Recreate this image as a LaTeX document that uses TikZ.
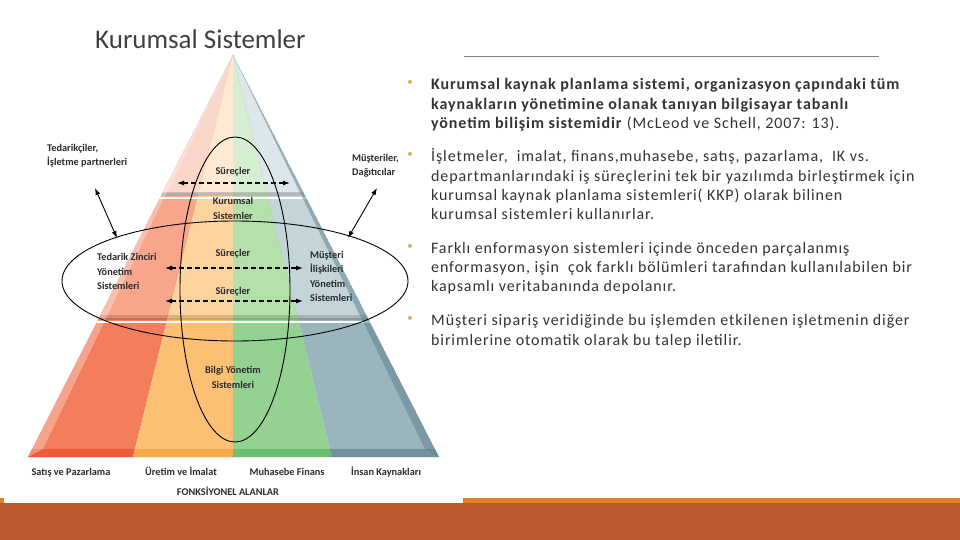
\documentclass[tikz,border=0pt]{standalone}
\usepackage{fontspec}
\setmainfont{Carlito}
\newfontfamily\spacedfont[LetterSpace=5.5]{Carlito}
\usetikzlibrary{arrows.meta,positioning}

\definecolor{redP}{HTML}{FBD6CA}
\definecolor{redM}{HTML}{F7A68C}
\definecolor{redS}{HTML}{F47D5B}
\definecolor{redB}{HTML}{EF5A3B}
\definecolor{oraP}{HTML}{FEEAD2}
\definecolor{oraM}{HTML}{FDD49E}
\definecolor{oraS}{HTML}{FBC074}
\definecolor{oraB}{HTML}{F8AA4B}
\definecolor{grnP}{HTML}{D6EED1}
\definecolor{grnM}{HTML}{B4E0AC}
\definecolor{grnS}{HTML}{94D292}
\definecolor{grnB}{HTML}{6DBF6E}
\definecolor{bluP}{HTML}{DDE6E9}
\definecolor{bluM}{HTML}{C4D4D9}
\definecolor{bluS}{HTML}{9BB5BD}
\definecolor{bluB}{HTML}{6F929C}
\definecolor{edgeD}{HTML}{5E8591}
\definecolor{labelgray}{HTML}{2B2B2B}
\definecolor{bodygray}{HTML}{333333}
\definecolor{titlegray}{HTML}{404040}
\definecolor{bulletgold}{HTML}{D9A862}
\definecolor{barorange}{HTML}{BD5A2D}
\definecolor{lineorange}{HTML}{E0801F}

\tikzstyle{lbl} = [font=\fontsize{10.3}{14.3}\selectfont\bfseries, text=labelgray, inner sep=0pt, align=left]
\tikzstyle{lblc} = [lbl, align=center]
\tikzstyle{arrow} = [line width=0.9pt, {Latex[length=7pt,width=5pt]}-{Latex[length=7pt,width=5pt]}, draw=black]
\tikzstyle{dasharrow} = [arrow, line width=1.1pt, dash pattern=on 5pt off 3pt]
\tikzstyle{ring} = [line width=0.9pt, draw=black]
\tikzstyle{body} = [font=\spacedfont\fontsize{16}{19.3}\selectfont, text=bodygray, inner sep=0pt, align=left, anchor=north west]
\tikzstyle{bul} = [font=\fontsize{11}{12}\selectfont, text=bulletgold, inner sep=0pt]

\begin{document}
\begin{tikzpicture}[x=1pt, y=-1pt]
    \useasboundingbox (0,0) rectangle (960,540);
    \fill[white] (0,0) rectangle (960,540);

    % footer bar
    \fill[lineorange] (0,498) rectangle (960,504);
    \fill[white] (4,490) rectangle (463,503);
    \fill[barorange] (0,503) rectangle (960,540);

    % title and rule
    \node(title)[font=\fontsize{27}{30}\selectfont, text=titlegray, anchor=base west, inner sep=0pt] at (95,49) {Kurumsal Sistemler};
    \coordinate (ruleL) at (464,57);
    \coordinate (ruleR) at (879,57);
    \draw[gray, line width=1pt] (ruleL) -- (ruleR);

    % pyramid columns
    \foreach \xl/\xr/\cp/\cm/\cs/\cb in {28/133/redP/redM/redS/redB, 133/233/oraP/oraM/oraS/oraB, 233/332/grnP/grnM/grnS/grnB, 332/439/bluP/bluM/bluS/bluB}{
        \begin{scope}
            \clip (233,55) -- (\xl,457) -- (\xr,457) -- cycle;
            \fill[\cs] (0,40) rectangle (470,460);
            \fill[\cm] (0,40) rectangle (470,318);
            \fill[\cp] (0,40) rectangle (470,193);
            \fill[\cb] (0,449) rectangle (470,460);
        \end{scope}
    }
    \begin{scope}
        \clip (233,55) -- (28,457) -- (439,457) -- cycle;
        \fill[black!35, opacity=0.6] (0,192) rectangle (470,195.5);
        \fill[white] (0,196.5) rectangle (470,199);
        \fill[black, opacity=0.15] (0,315) rectangle (470,320);
        \fill[white] (0,321) rectangle (470,323);
        \fill[white, opacity=0.3] (233,55) -- (28,457) -- (43,449) -- cycle;
        \fill[edgeD, opacity=0.55] (233,55) -- (439,457) -- (425,449) -- cycle;
    \end{scope}

    % rings
    \draw[ring] (235,281) ellipse [x radius=173, y radius=60];
    \draw[ring] (235,289.5) ellipse [x radius=55, y radius=152.5];

    % arrows
    \coordinate (supA) at (95,188);
    \coordinate (supB) at (117,238);
    \coordinate (cusA) at (377,188);
    \coordinate (cusB) at (348,238);
    \coordinate (topL) at (177,183);
    \coordinate (topR) at (290,183);
    \coordinate (midL) at (165,268);
    \coordinate (midR) at (303,268);
    \coordinate (lowL) at (165,301);
    \coordinate (lowR) at (303,301);
    \draw[arrow] (supA) -- (supB);
    \draw[arrow] (cusA) -- (cusB);
    \draw[dasharrow] (topL) -- (topR);
    \draw[dasharrow] (midL) -- (midR);
    \draw[dasharrow] (lowL) -- (lowR);

    % diagram labels
    \node(tedarikci)[lbl, anchor=west] at (47,156) {Tedarikçiler,\\İşletme partnerleri};
    \node(musteri)[lbl, anchor=west] at (352,166) {Müşteriler,\\Dağıtıcılar};
    \node(surecTop)[lblc] at (233,172) {Süreçler};
    \node(kurumsal)[lblc] at (233,208.5) {Kurumsal\\Sistemler};
    \node(tzys)[lbl, anchor=west] at (97,271.5) {Tedarik Zinciri\\Yönetim\\Sistemleri};
    \node(surecMid)[lblc] at (233,254) {Süreçler};
    \node(surecLow)[lblc] at (233,292) {Süreçler};
    \node(miys)[lbl, anchor=west] at (310,276.5) {Müşteri\\İlişkileri\\Yönetim\\Sistemleri};
    \node(bys)[lblc] at (233,377.5) {Bilgi Yönetim\\Sistemleri};
    \node(satis)[lblc, anchor=base] at (71,475.5) {Satış ve Pazarlama};
    \node(uretim)[lblc, anchor=base] at (181,475.5) {Üretim ve İmalat};
    \node(muhasebe)[lblc, anchor=base] at (287,475.5) {Muhasebe Finans};
    \node(insan)[lblc, anchor=base] at (386,475.5) {İnsan Kaynakları};
    \node(fonk)[lblc, anchor=base] at (228,495.5) {FONKSİYONEL ALANLAR};

    % bullet text
    \node(b1)[bul] at (410,83) {•};
    \node(p1)[body] at (431,78.5) {\textbf{Kurumsal kaynak planlama sistemi, organizasyon çapındaki tüm}\\\textbf{kaynakların yönetimine olanak tanıyan bilgisayar tabanlı}\\\textbf{yönetim bilişim sistemidir} (McLeod ve Schell, 2007: 13).};
    \node(b2)[bul] at (410,155) {•};
    \node(p2)[body] at (431,148.5) {İşletmeler,\ \ imalat, finans,muhasebe, satış, pazarlama,\ \ IK vs.\\departmanlarındaki iş süreçlerini tek bir yazılımda birleştirmek için\\kurumsal kaynak planlama sistemleri( KKP) olarak bilinen\\kurumsal sistemleri kullanırlar.};
    \node(b3)[bul] at (410,247) {•};
    \node(p3)[body] at (431,242) {Farklı enformasyon sistemleri içinde önceden parçalanmış\\enformasyon, işin\ \ çok farklı bölümleri tarafından kullanılabilen bir\\kapsamlı veritabanında depolanır.};
    \node(b4)[bul] at (410,319) {•};
    \node(p4)[body] at (431,314.5) {Müşteri sipariş veridiğinde bu işlemden etkilenen işletmenin diğer\\birimlerine otomatik olarak bu talep iletilir.};
\end{tikzpicture}
\end{document}
